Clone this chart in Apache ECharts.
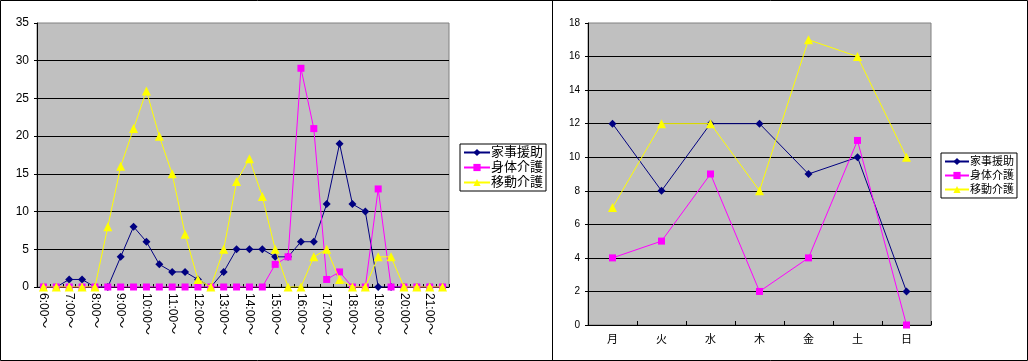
<!DOCTYPE html>
<html>
<head>
<meta charset="utf-8">
<script src="https://cdn.jsdelivr.net/npm/echarts@6/dist/echarts.min.js"></script>
<style>
html,body{margin:0;padding:0;background:#fff;}
#chart{width:1028px;height:361px;}
</style>
</head>
<body>
<div id="chart"></div>
<script>
const seriesNames = ['家事援助', '身体介護', '移動介護'];
const seriesColors = ['#000080', '#ff00ff', '#ffff00'];

const timeSlots = ['6:00～','6:30～','7:00～','7:30～','8:00～','8:30～','9:00～','9:30～',
  '10:00～','10:30～','11:00～','11:30～','12:00～','12:30～','13:00～','13:30～',
  '14:00～','14:30～','15:00～','15:30～','16:00～','16:30～','17:00～','17:30～',
  '18:00～','18:30～','19:00～','19:30～','20:00～','20:30～','21:00～','21:30～'];
const houseworkByTime = [0,0,1,1,0,0,4,8,6,3,2,2,1,0,2,5,5,5,4,4,6,6,11,19,11,10,0,0,0,0,0,0];
const bodyCareByTime  = [0,0,0,0,0,0,0,0,0,0,0,0,0,0,0,0,0,0,3,4,29,21,1,2,0,0,13,0,0,0,0,0];
const mobilityByTime  = [0,0,0,0,0,8,16,21,26,20,15,7,1,0,5,14,17,12,5,0,0,4,5,1,0,0,4,4,0,0,0,0];

const days = ['月','火','水','木','金','土','日'];
const houseworkByDay = [12,8,12,12,9,10,2];
const bodyCareByDay  = [4,5,9,2,4,11,0];
const mobilityByDay  = [7,12,12,8,17,16,10];

const leftTicks = [0,5,10,15,20,25,30,35];
const rightTicks = [0,2,4,6,8,10,12,14,16,18];

const FONT = '"Liberation Sans", "Noto Sans CJK JP", sans-serif';
const symbols = ['diamond', 'rect', 'triangle'];
const symbolSizes = [8, 7, 9];

function makeSeries(name, idx, data, axisIdx) {
  return {
    name: name,
    type: 'line',
    xAxisIndex: axisIdx,
    yAxisIndex: axisIdx,
    data: data,
    symbol: symbols[idx],
    symbolSize: symbolSizes[idx],
    showAllSymbol: true,
    animation: false,
    lineStyle: { color: seriesColors[idx], width: 1 },
    itemStyle: { color: seriesColors[idx] },
    emphasis: { disabled: true },
    z: 2 + idx
  };
}

const chart = echarts.init(document.getElementById('chart'), null, { renderer: 'canvas' });

chart.setOption({
  animation: false,
  textStyle: { fontFamily: FONT },
  grid: [
    { left: 37, top: 23, width: 412, height: 264, show: true, backgroundColor: '#c0c0c0', borderColor: '#808080', borderWidth: 1 },
    { left: 588, top: 23, width: 343, height: 302, show: true, backgroundColor: '#c0c0c0', borderColor: '#808080', borderWidth: 1 }
  ],
  xAxis: [
    {
      gridIndex: 0, type: 'category', data: timeSlots, boundaryGap: true,
      axisLine: { show: true, lineStyle: { color: '#000' } },
      axisTick: { show: true, inside: true, length: 3, interval: 0, lineStyle: { color: '#000' } },
      axisLabel: { interval: 1, rotate: -90, margin: 6, fontSize: 12, color: '#000', fontFamily: FONT },
      splitLine: { show: false }
    },
    {
      gridIndex: 1, type: 'category', data: days, boundaryGap: true,
      axisLine: { show: true, lineStyle: { color: '#000' } },
      axisTick: { show: true, inside: true, length: 4, interval: 0, lineStyle: { color: '#000' } },
      axisLabel: { interval: 0, margin: 9, fontSize: 11, color: '#000', fontFamily: FONT },
      splitLine: { show: false }
    }
  ],
  yAxis: [
    {
      gridIndex: 0, type: 'value', min: leftTicks[0], max: leftTicks[leftTicks.length - 1], interval: 5,
      axisLine: { show: true, lineStyle: { color: '#000' } },
      axisTick: { show: true, length: 3, lineStyle: { color: '#000' } },
      axisLabel: { margin: 8, fontSize: 12, color: '#000', fontFamily: FONT },
      splitLine: { show: true, showMinLine: false, showMaxLine: false, lineStyle: { color: '#000', width: 1 } }
    },
    {
      gridIndex: 1, type: 'value', min: rightTicks[0], max: rightTicks[rightTicks.length - 1], interval: 2,
      axisLine: { show: true, lineStyle: { color: '#000' } },
      axisTick: { show: true, length: 3, lineStyle: { color: '#000' } },
      axisLabel: { margin: 8, fontSize: 10, color: '#000', fontFamily: FONT },
      splitLine: { show: true, showMinLine: false, showMaxLine: false, lineStyle: { color: '#000', width: 1 } }
    }
  ],
  legend: [
    {
      data: seriesNames, left: 460, top: 144, orient: 'vertical',
      itemWidth: 26, itemHeight: 9, itemGap: 2, padding: [2, 3, 2, 3],
      borderColor: '#000', borderWidth: 1, backgroundColor: '#fff',
      textStyle: { fontSize: 13, color: '#000', fontFamily: FONT, padding: [0, 0, 0, -4] },
      selectedMode: false
    },
    {
      data: seriesNames.map(n => n + ' '), left: 941, top: 153, orient: 'vertical',
      itemWidth: 24, itemHeight: 9, itemGap: 3, padding: [3, 3, 3, 3],
      borderColor: '#000', borderWidth: 1, backgroundColor: '#fff',
      formatter: n => n.trim(),
      textStyle: { fontSize: 11, color: '#000', fontFamily: FONT, padding: [0, 0, 0, -4] },
      selectedMode: false
    }
  ],
  series: [
    makeSeries(seriesNames[0], 0, houseworkByTime, 0),
    makeSeries(seriesNames[1], 1, bodyCareByTime, 0),
    makeSeries(seriesNames[2], 2, mobilityByTime, 0),
    makeSeries(seriesNames[0] + ' ', 0, houseworkByDay, 1),
    makeSeries(seriesNames[1] + ' ', 1, bodyCareByDay, 1),
    makeSeries(seriesNames[2] + ' ', 2, mobilityByDay, 1)
  ],
  graphic: [
    { type: 'rect', shape: { x: 0.5, y: 0.5, width: 1027, height: 360 }, style: { fill: null, stroke: '#000', lineWidth: 1 }, silent: true, z: 100 },
    { type: 'line', shape: { x1: 552.5, y1: 0, x2: 552.5, y2: 361 }, style: { stroke: '#000', lineWidth: 1 }, silent: true, z: 100 }
  ]
});
</script>
</body>
</html>
